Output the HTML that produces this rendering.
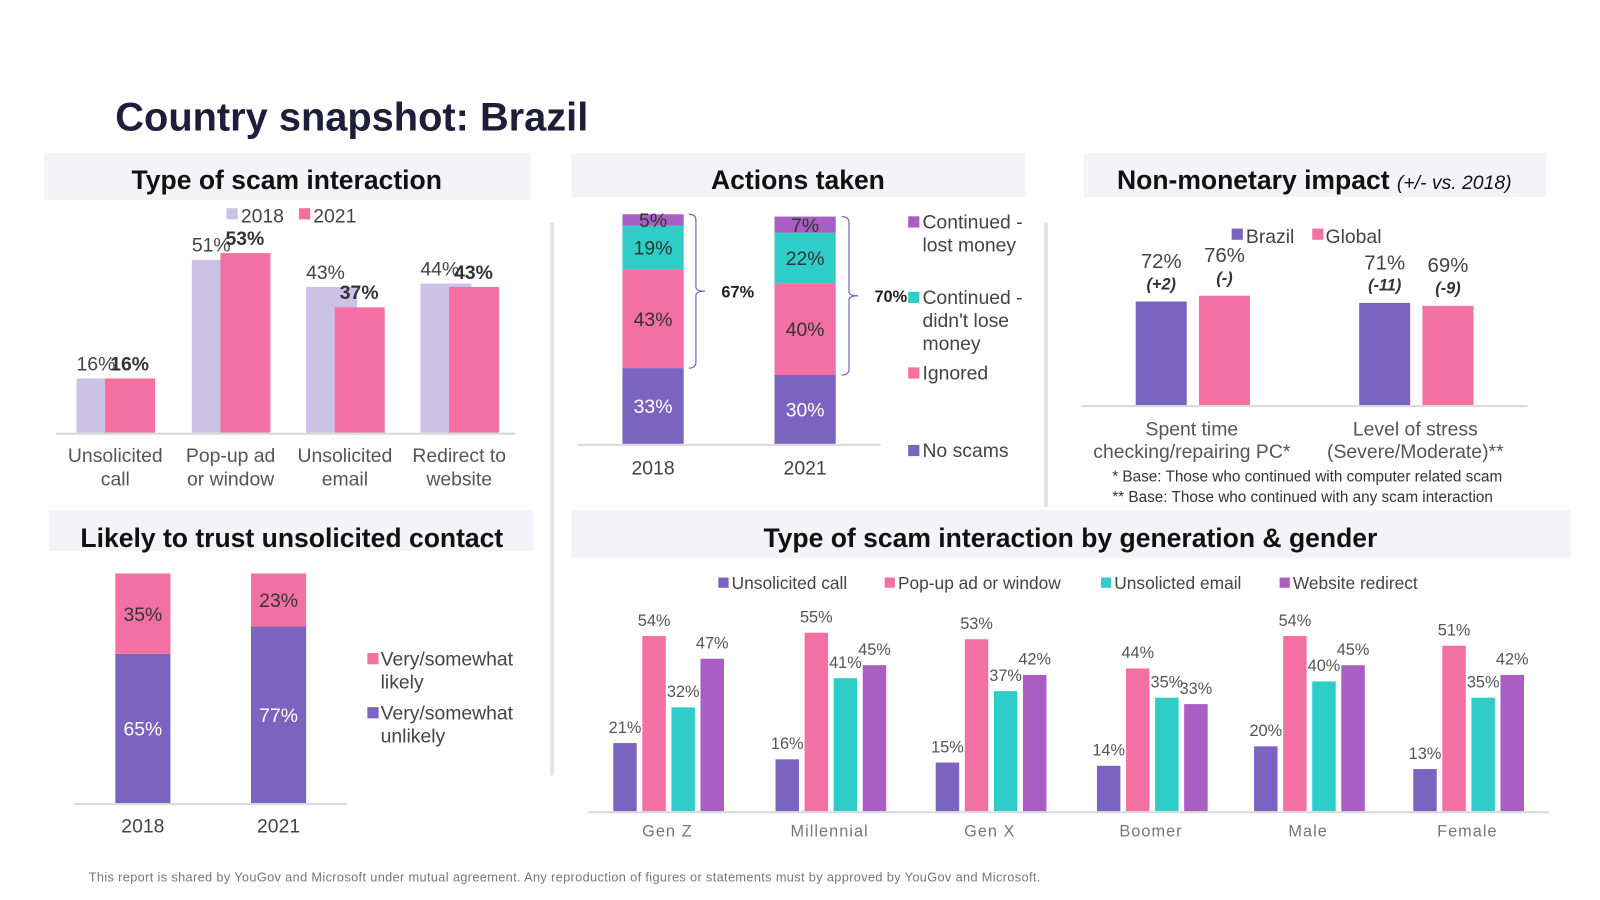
<!DOCTYPE html>
<html><head><meta charset="utf-8"><style>
html,body{margin:0;padding:0;background:#fff;width:1600px;height:900px;overflow:hidden}
svg{display:block;font-family:"Liberation Sans",Arial,sans-serif}
</style></head><body>
<svg id="s" width="1600" height="900" viewBox="0 0 1568 882" xmlns="http://www.w3.org/2000/svg">
<text x="113" y="128" font-size="39" font-weight="bold" fill="#1f1d3a">Country snapshot: Brazil</text>
<rect x="43" y="150" width="477" height="46" fill="#f4f4f8"/>
<text x="281" y="185" font-size="26" font-weight="bold" text-anchor="middle" fill="#111">Type of scam interaction</text>
<rect x="560" y="150" width="445" height="43" fill="#f4f4f8"/>
<text x="782" y="185" font-size="26" font-weight="bold" text-anchor="middle" fill="#111">Actions taken</text>
<rect x="1062" y="150" width="453" height="43" fill="#f4f4f8"/>
<text x="1288" y="185" font-size="26" font-weight="bold" text-anchor="middle" fill="#111">Non-monetary impact <tspan font-size="19" font-style="italic" font-weight="normal">(+/- vs. 2018)</tspan></text>
<rect x="48" y="500" width="475" height="40" fill="#f4f4f8"/>
<text x="286" y="536" font-size="26" font-weight="bold" text-anchor="middle" fill="#111">Likely to trust unsolicited contact</text>
<rect x="560" y="500" width="979" height="47" fill="#f4f4f8"/>
<text x="1049" y="536" font-size="26" font-weight="bold" text-anchor="middle" fill="#111">Type of scam interaction by generation &amp; gender</text>
<line x1="541" y1="218" x2="541" y2="760" stroke="#e4e4e4" stroke-width="4"/>
<line x1="1025" y1="218" x2="1025" y2="497" stroke="#e4e4e4" stroke-width="4"/>
<text x="1090" y="472" font-size="15" fill="#333">* Base: Those who continued with computer related scam</text>
<text x="1090" y="492" font-size="15" fill="#333">** Base: Those who continued with any scam interaction</text>
<text x="87" y="864" font-size="12.5" letter-spacing="0.35" fill="#777">This report is shared by YouGov and Microsoft under mutual agreement. Any reproduction of figures or statements must by approved by YouGov and Microsoft.</text>
</svg>
<script>
// Chart 1: type of scam interaction
const c1Categories = [["Unsolicited","call"],["Pop-up ad","or window"],["Unsolicited","email"],["Redirect to","website"]];
const c1Values2018 = [16,51,43,44];
const c1Values2021 = [16,53,37,43];
// Chart 2: actions taken (bottom to top)
const c2Years = ["2018","2021"];
const c2NoScams = [33,30];
const c2Ignored = [43,40];
const c2ContNoLoss = [19,22];
const c2ContLost = [5,7];
const c2Brackets = ["67%","70%"];
// Chart 3: non-monetary impact
const c3Categories = [["Spent time","checking/repairing PC*"],["Level of stress","(Severe/Moderate)**"]];
const c3Brazil = [72,71];
const c3Global = [76,69];
const c3BrazilChange = ["(+2)","(-11)"];
const c3GlobalChange = ["(-)","(-9)"];
// Chart 4: trust
const c4Years = ["2018","2021"];
const c4Unlikely = [65,77];
const c4Likely = [35,23];
// Chart 5: generation & gender
const c5Groups = ["Gen Z","Millennial","Gen X","Boomer","Male","Female"];
const c5Call = [21,16,15,14,20,13];
const c5Popup = [54,55,53,44,54,51];
const c5Email = [32,41,37,35,40,35];
const c5Redirect = [47,45,42,33,45,42];

const PUR="#7b64c0",PINK="#f271a2",TEAL="#2ecdc8",VIO="#a95ec4",LAV="#cbc2e6";
const S=document.getElementById('s');
function mk(tag,a,txt){const e=document.createElementNS("http://www.w3.org/2000/svg",tag);for(const k in a)e.setAttribute(k,a[k]);if(txt!==undefined)e.textContent=txt;S.appendChild(e);return e;}
function T(x,y,t,size,fill,anchor,weight,style){return mk('text',{x:x,y:y,'font-size':size,fill:fill||'#444','text-anchor':anchor||'middle','font-weight':weight||'normal','font-style':style||'normal'},t);}

// ---- Chart 1
{const base=424,k=3.32,cx=[113,226,338,450];
const y=v=>base-v*k;
let e;
e=mk('rect',{x:222,y:204,width:11,height:11,fill:LAV});
e=T(236,218,"2018",19,'#444','start');
e=mk('rect',{x:293,y:204,width:11,height:11,fill:PINK});
e=T(307,218,"2021",19,'#444','start');
c1Categories.forEach((c,i)=>{
 const x=cx[i];
 e=mk('rect',{x:x-38,y:y(c1Values2018[i]),width:50,height:c1Values2018[i]*k,fill:LAV});
 e=mk('rect',{x:x-10,y:y(c1Values2021[i]),width:49,height:c1Values2021[i]*k,fill:PINK});
 e=T(x-19,y(c1Values2018[i])-8,c1Values2018[i]+"%",19,'#444');
 e=T(x+14,y(c1Values2021[i])-8,c1Values2021[i]+"%",19,'#333','middle','bold');
 e=T(x,453,c[0],19,'#555');
 e=T(x,476,c[1],19,'#555');
});
e=mk('line',{x1:55,y1:base+1,x2:505,y2:base+1,stroke:'#d9d9d9','stroke-width':2});}

// ---- Chart 2
{const base=435,k=2.25,cx=[640,789],bx=[675,825];
let e;
c2Years.forEach((yr,i)=>{
 let cum=0;
 const segs=[[c2NoScams[i],PUR,'#fff'],[c2Ignored[i],PINK,'#333'],[c2ContNoLoss[i],TEAL,'#333'],[c2ContLost[i],VIO,'#333']];
 segs.forEach(([v,col,tc],j)=>{
  const top=base-(cum+v)*k;
  e=mk('rect',{x:cx[i]-30,y:top,width:60,height:v*k,fill:col});
  e=T(cx[i],top+v*k/2+7,v+"%",19,tc);
  cum+=v;
 });
 const yTop=base-cum*k,yBot=base-c2NoScams[i]*k,mid=(yTop+yBot)/2,x=bx[i];
 e=mk('path',{d:`M${x} ${yTop} Q${x+7} ${yTop} ${x+7} ${yTop+6} L${x+7} ${mid-4} Q${x+7} ${mid} ${x+16} ${mid} Q${x+7} ${mid} ${x+7} ${mid+4} L${x+7} ${yBot-6} Q${x+7} ${yBot} ${x} ${yBot}`,fill:'none',stroke:PUR,'stroke-width':1.2});
 e=T(x+32,mid+6,c2Brackets[i],16,'#222','start','bold');
 e=T(cx[i],465,yr,19,'#444');
});
e=mk('line',{x1:566,y1:base+1,x2:863,y2:base+1,stroke:'#d9d9d9','stroke-width':2});
const leg=[[VIO,["Continued -","lost money"],224],[TEAL,["Continued -","didn't lose","money"],298],[PINK,["Ignored"],372],[PUR,["No scams"],448]];
leg.forEach(([col,lines,y0])=>{
 e=mk('rect',{x:890,y:y0-12,width:11,height:11,fill:col});
 lines.forEach((l,j)=>{e=T(904,y0+j*22.5,l,19,'#444','start');});
});}

// ---- Chart 3
{const base=397,k=1.41,cx=[1168,1387];
let e;
e=mk('rect',{x:1207,y:224,width:11,height:11,fill:PUR});
e=T(1221,238,"Brazil",19,'#444','start');
e=mk('rect',{x:1286,y:224,width:11,height:11,fill:PINK});
e=T(1299,238,"Global",19,'#444','start');
c3Categories.forEach((c,i)=>{
 const items=[[c3Brazil[i],c3BrazilChange[i],cx[i]-30,PUR],[c3Global[i],c3GlobalChange[i],cx[i]+32,PINK]];
 items.forEach(([v,ch,x,col])=>{
  const top=base-v*k;
  e=mk('rect',{x:x-25,y:top,width:50,height:v*k,fill:col});
  e=T(x,top-33,v+"%",20,'#444');
  e=T(x,top-12,ch,16,'#333','middle','bold','italic');
 });
 e=T(cx[i],427,c[0],19,'#555');
 e=T(cx[i],449,c[1],19,'#555');
});
e=mk('line',{x1:1060,y1:base+1,x2:1497,y2:base+1,stroke:'#d9d9d9','stroke-width':2});}

// ---- Chart 4
{const base=787,k=2.25,cx=[140,273];
let e;
c4Years.forEach((yr,i)=>{
 const hU=c4Unlikely[i]*k,hL=c4Likely[i]*k;
 e=mk('rect',{x:cx[i]-27,y:base-hU,width:54,height:hU,fill:PUR});
 e=mk('rect',{x:cx[i]-27,y:base-hU-hL,width:54,height:hL,fill:PINK});
 e=T(cx[i],base-hU/2+7,c4Unlikely[i]+"%",19,'#fff');
 e=T(cx[i],base-hU-hL/2+7,c4Likely[i]+"%",19,'#333');
 e=T(cx[i],816,yr,19,'#444');
});
e=mk('line',{x1:73,y1:base+1,x2:340,y2:base+1,stroke:'#d9d9d9','stroke-width':2});
[[PINK,["Very/somewhat","likely"],652],[PUR,["Very/somewhat","unlikely"],705]].forEach(([col,lines,y0])=>{
 e=mk('rect',{x:360,y:y0-12,width:11,height:11,fill:col});
 lines.forEach((l,j)=>{e=T(373,y0+j*22.5,l,19,'#444','start');});
});}

// ---- Chart 5
{const base=795,k=3.18,cx=[654,813,970,1128,1282,1438];
let e;
const leg=[[PUR,"Unsolicited call",704],[PINK,"Pop-up ad or window",867],[TEAL,"Unsolicted email",1079],[VIO,"Website redirect",1254]];
leg.forEach(([col,t,x])=>{
 e=mk('rect',{x:x,y:566,width:10,height:10,fill:col});
 e=T(x+13,577,t,17,'#444','start');
});
const series=[[c5Call,PUR],[c5Popup,PINK],[c5Email,TEAL],[c5Redirect,VIO]];
c5Groups.forEach((g,i)=>{
 series.forEach(([arr,col],j)=>{
  const v=arr[i],x=cx[i]-53+j*28.5,top=base-v*k;
  e=mk('rect',{x:x,y:top,width:23,height:v*k,fill:col});
  e=T(x+11.5,top-10,v+"%",16,'#555');
 });
 e=mk('text',{x:cx[i],y:820,'font-size':16,fill:'#777','text-anchor':'middle','letter-spacing':1},g);
});
e=mk('line',{x1:576,y1:base+1,x2:1518,y2:base+1,stroke:'#d9d9d9','stroke-width':2});}
</script>
</body></html>
